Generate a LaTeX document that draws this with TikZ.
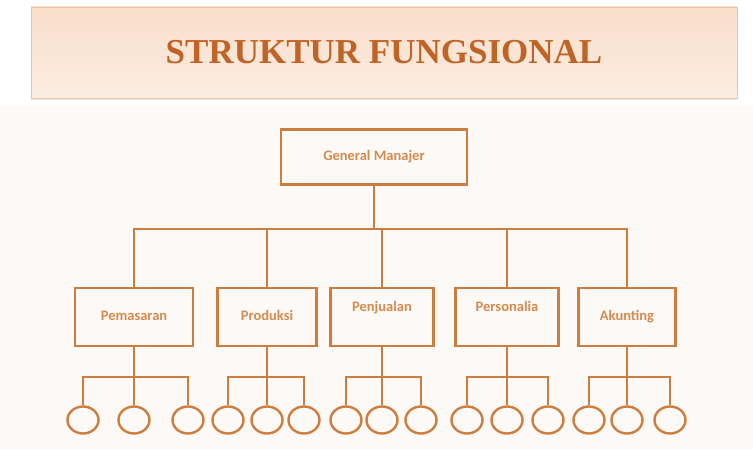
\documentclass[tikz,border=0pt]{standalone}
\usepackage{fontspec}
\setmainfont{Liberation Serif}
\newfontfamily\orgfont{Carlito}
\definecolor{orline}{RGB}{205,126,62}
\definecolor{ortext}{RGB}{214,138,78}
\definecolor{ortitle}{RGB}{192,99,38}
\definecolor{pagebg}{RGB}{252,249,246}
\definecolor{peachtop}{RGB}{248,222,202}
\definecolor{peachbot}{RGB}{252,237,226}
\definecolor{peachrim}{RGB}{232,198,172}
\usetikzlibrary{shapes.geometric,shadows}
\tikzset{
    titlebar/.style={
        draw=peachrim, line width=0.6pt, top color=peachtop, bottom color=peachbot,
        inner sep=0pt, text=ortitle, font=\bfseries\fontsize{35}{35}\selectfont,
        drop shadow={opacity=0.18, shadow xshift=0pt, shadow yshift=-2pt}
    },
    unit/.style={
        draw=orline, line width=2.6pt, inner sep=0pt, minimum height=58pt,
        text=ortext, font=\orgfont\bfseries\fontsize{14.5}{14.5}\selectfont,
        text height=10pt, text depth=3pt
    },
    high/.style={text depth=21pt},
    sub/.style={
        ellipse, draw=orline, line width=2.4pt, inner sep=0pt,
        minimum width=31pt, minimum height=27pt
    },
    link/.style={draw=orline, line width=1.8pt}
}

\begin{document}
\begin{tikzpicture}[x=1pt, y=-1pt]
    \useasboundingbox (0,0) rectangle (753,449);
    \fill[pagebg] (0,0) rectangle (753,449);
    \fill[white] (0,0) rectangle (753,106);
    \node[titlebar, minimum width=706pt, minimum height=91pt] (title) at (384,52.5) {STRUKTUR FUNGSIONAL};
    \node[unit, minimum width=186pt, minimum height=55pt] (gm) at (374,157) {General Manajer};
    \node[unit, minimum width=118pt] (pem) at (134,317) {Pemasaran};
    \node[unit, minimum width=99pt] (pro) at (267,317) {Produksi};
    \node[unit, high, minimum width=103pt] (pen) at (382,317) {Penjualan};
    \node[unit, high, minimum width=103pt] (per) at (507,317) {Personalia};
    \node[unit, minimum width=97pt] (aku) at (627,317) {Akunting};
    \coordinate (bar) at (374,229);
    \draw[link] (gm.south) -- (bar);
    \draw[link] (pem.north) |- (bar) -| (aku.north);
    \draw[link] (pro.north) -- (pro.north |- bar);
    \draw[link] (pen.north) -- (pen.north |- bar);
    \draw[link] (per.north) -- (per.north |- bar);
    % sub units under each department
    \foreach \dep/\xa/\xb/\xc in {pem/83/134/188, pro/228/267/304, pen/346/382/421,
                                  per/467/507/548, aku/589/627/670}{
        \node[sub] (\dep-a) at (\xa,420) {};
        \node[sub] (\dep-b) at (\xb,420) {};
        \node[sub] (\dep-c) at (\xc,420) {};
        \draw[link] (\dep.south) -- (\dep-b.north);
        \draw[link] (\dep-a.north) -- ++(0,-28) -| (\dep-c.north);
    }
\end{tikzpicture}
\end{document}
